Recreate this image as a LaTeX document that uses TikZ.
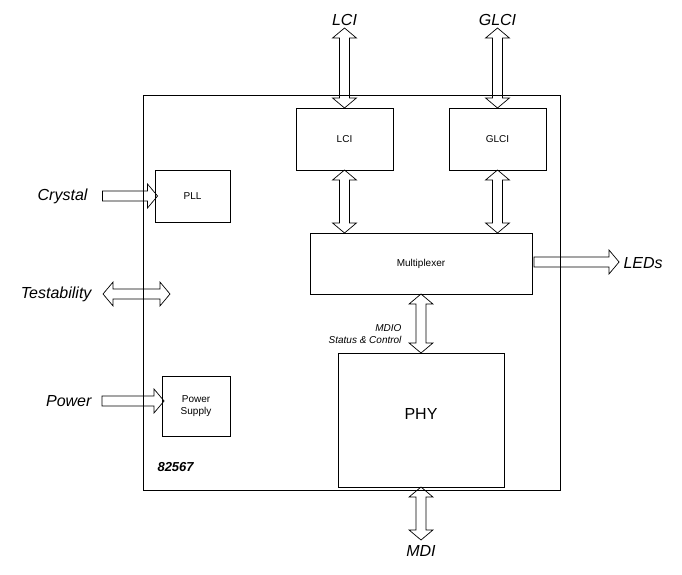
\documentclass[tikz,border=0pt]{standalone}
\usepackage{fontspec}
\setmainfont{Liberation Sans}
\usetikzlibrary{shapes.arrows}
\begin{document}
\begin{tikzpicture}[x=1pt,y=-1pt,
  blk/.style={draw,line width=0.8pt,inner sep=0pt,font=\fontsize{10}{12}\selectfont,align=center},
  dbl/.style={double arrow,draw,line width=0.7pt,inner sep=4.5pt,double arrow head extend=7pt,minimum width=24pt,double arrow tip angle=100},
  sgl/.style={single arrow,draw,line width=0.7pt,inner sep=4.5pt,single arrow head extend=7pt,minimum width=24pt,single arrow tip angle=100},
  lab/.style={font=\fontsize{16}{18}\selectfont\itshape}]
\useasboundingbox (0,0) rectangle (682,575);
\node[blk,minimum width=417pt,minimum height=395pt] (chip) at (351.5,292.5) {};
\node[blk,minimum width=97pt,minimum height=62pt] (lci) at (344.5,139) {LCI};
\node[blk,minimum width=97pt,minimum height=62pt] (glci) at (497.5,139) {GLCI};
\node[blk,minimum width=75pt,minimum height=52pt] (pll) at (192.5,196) {PLL};
\node[blk,minimum width=222pt,minimum height=61pt] (mux) at (421,263.5) {Multiplexer};
\node[blk,minimum width=68pt,minimum height=60pt] (ps) at (196,406) {Power\\Supply};
\node[blk,minimum width=166pt,minimum height=134pt] (phy) at (421,420) {};
\node[font=\fontsize{16}{18}\selectfont] (phyt) at (421,414) {PHY};
\node[font=\fontsize{13}{15}\selectfont\bfseries\itshape,anchor=west] (num) at (154,467) {82567};
% arrows
\node[dbl,rotate=90,minimum height=80pt] (a1) at (344.5,68) {};
\node[dbl,rotate=90,minimum height=80pt] (a2) at (497.5,68) {};
\node[dbl,rotate=90,minimum height=63pt] (a3) at (344.5,201.5) {};
\node[dbl,rotate=90,minimum height=63pt] (a4) at (497.5,201.5) {};
\node[dbl,rotate=90,minimum height=59pt] (a5) at (421,323.5) {};
\node[dbl,rotate=90,minimum height=53pt] (a6) at (421,513.5) {};
\node[sgl,minimum height=55pt] (a7) at (128,196) {};
\node[dbl,minimum height=67pt] (a8) at (136.5,294) {};
\node[sgl,minimum height=62pt] (a9) at (131,401) {};
\node[sgl,minimum height=85pt] (a10) at (574.5,262) {};
% labels
\node[lab] (l1) at (344.5,20) {LCI};
\node[lab] (l2) at (497.5,20) {GLCI};
\node[lab,anchor=east] (l3) at (91,196) {Crystal};
\node[lab,anchor=east] (l4) at (95,294) {Testability};
\node[lab,anchor=east] (l5) at (95,401) {Power};
\node[lab,anchor=west] (l6) at (620,263) {LEDs};
\node[lab] (l7) at (421,551) {MDI};
\node[font=\fontsize{10}{12}\selectfont\itshape,align=right,anchor=east] (l8) at (405,334) {MDIO\\Status \& Control};
\end{tikzpicture}
\end{document}
